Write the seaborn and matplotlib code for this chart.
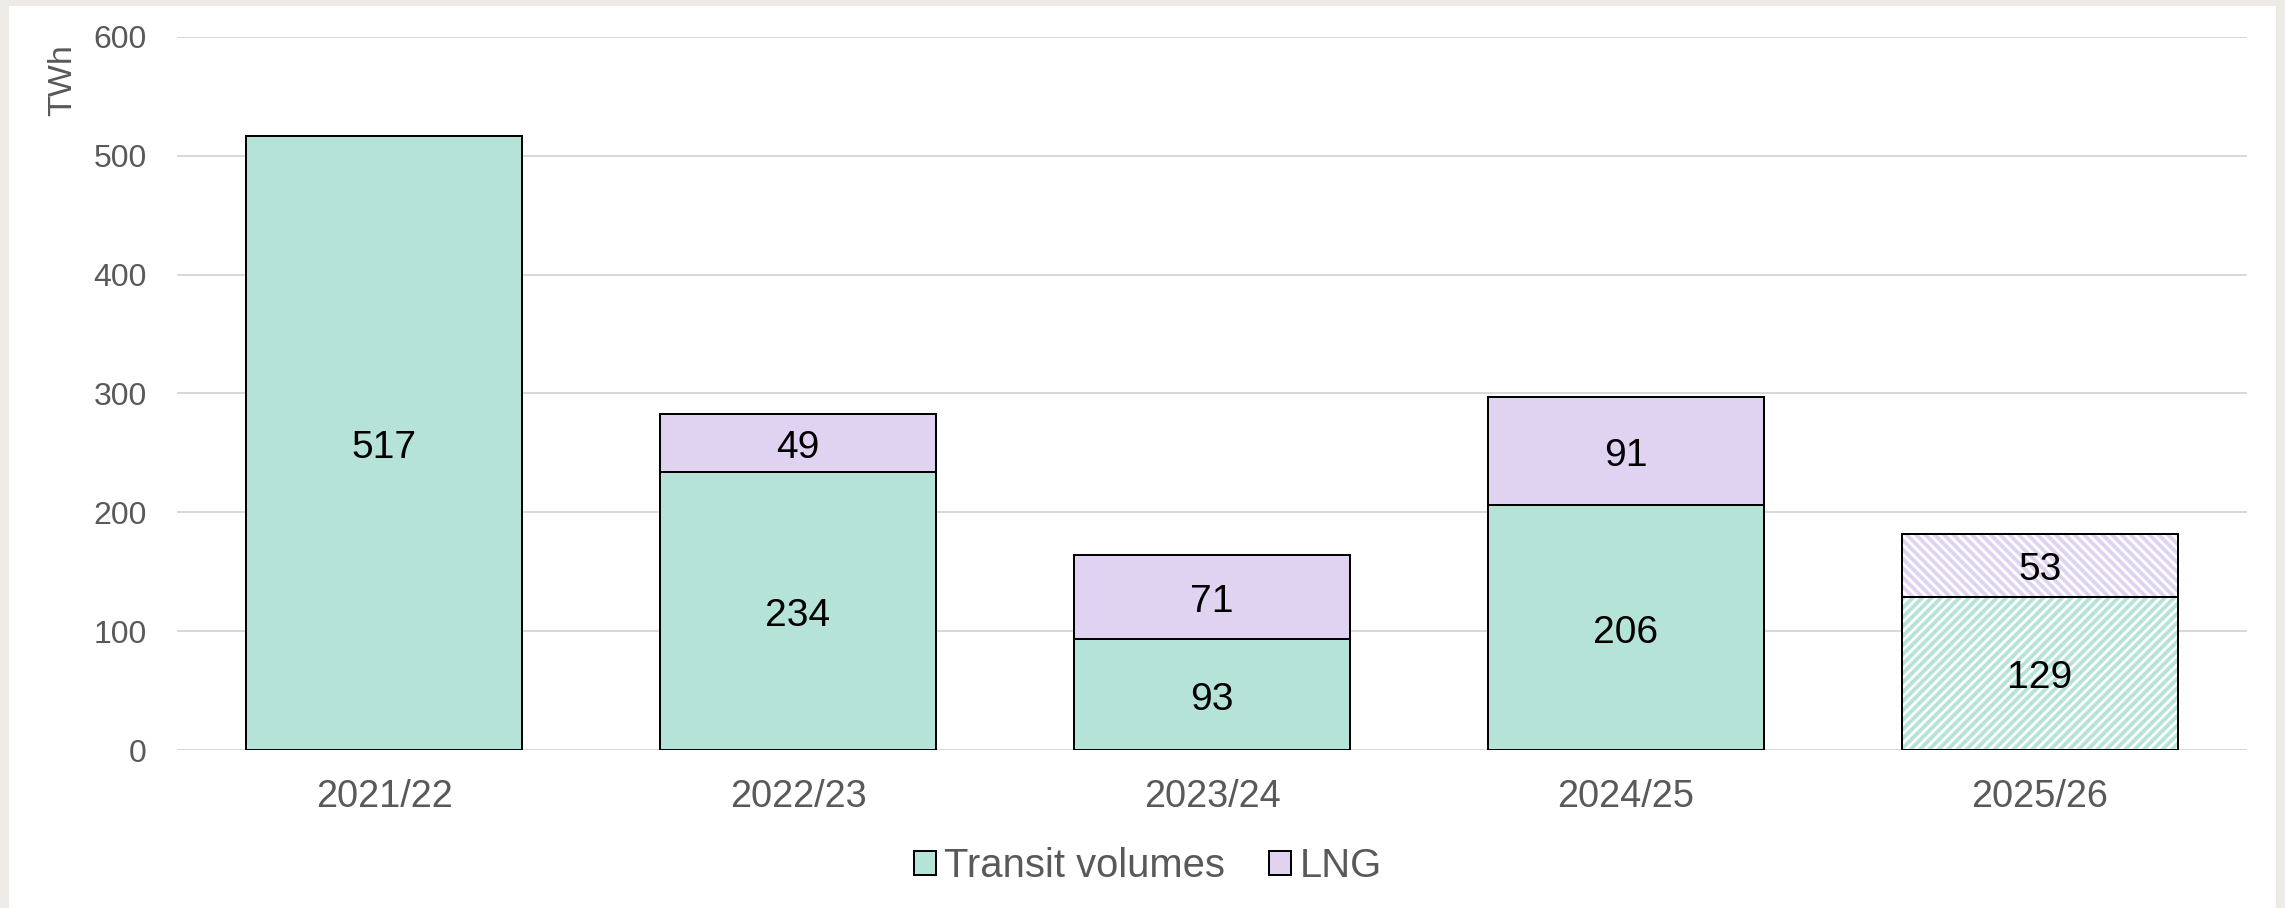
import pandas as pd
import matplotlib.pyplot as plt
import seaborn as sns
from matplotlib.patches import Patch, Rectangle

# values (TWh)
periods = ['2021/22', '2022/23', '2023/24', '2024/25', '2025/26']
transit = [517, 234, 93, 206, 129]
lng = [0, 49, 71, 91, 53]
forecast = [False, False, False, False, True]

green = '#B5E3D8'
purple = '#E0D3F2'
grey = '#595959'

# the hatch spacing follows the dpi, so pick a dpi that gives ~9px stripes
# and express every size in pixels
DPI = 56
W, H = 2285, 908


def px(v):
    return v * 72 / DPI


sns.set_theme(style='white')
plt.rcParams['font.family'] = ['Liberation Sans', 'DejaVu Sans']
plt.rcParams['hatch.linewidth'] = px(3.8)

df = pd.DataFrame({'period': periods, 'transit': transit, 'lng': lng, 'forecast': forecast})

fig = plt.figure(figsize=(W / DPI, H / DPI), dpi=DPI, facecolor='#EEEAE6')
fig.patches.append(Rectangle((9 / W, 0), 2267 / W, 902 / H,
                             transform=fig.transFigure, facecolor='white',
                             edgecolor='none', zorder=-10))
ax = fig.add_axes([177 / W, 1 - 750 / H, 2070 / W, 713 / H])
ax.set_facecolor('none')

sns.barplot(data=df, x='period', y='transit', color=green, width=0.667,
            edgecolor='black', linewidth=px(2), saturation=1, ax=ax, zorder=3)
sns.barplot(data=df, x='period', y='lng', bottom=df['transit'], color=purple, width=0.667,
            edgecolor='black', linewidth=px(2), saturation=1, ax=ax, zorder=3)

# forecast year: white bar with coloured diagonal stripes
for container, col, hatch in zip(ax.containers, [green, purple], ['//', '\\\\']):
    for bar, fc in zip(container, df['forecast']):
        if fc:
            bar.set_facecolor('white')
            x, y = bar.get_xy()
            ax.bar(x, bar.get_height(), width=bar.get_width(), bottom=y, align='edge',
                   facecolor='white', edgecolor=col, hatch=hatch, linewidth=0, zorder=3.5)
            ax.bar(x, bar.get_height(), width=bar.get_width(), bottom=y, align='edge',
                   facecolor='none', edgecolor='black', linewidth=px(2), zorder=3.6)

for container, vals in zip(ax.containers[:2], [transit, lng]):
    labels = [str(v) if v > 0 else '' for v in vals]
    anns = ax.bar_label(container, labels=labels, label_type='center', fontsize=px(39),
                        color='black', zorder=5)
    for a in anns:
        a.xyann = (0, -px(5))

ax.set_xlim(-0.5, 4.5)
ax.set_ylim(0, 600)
ax.set_yticks(range(0, 601, 100))
ax.grid(axis='y', color='#D9D9D9', linewidth=px(2), zorder=0)
ax.set_axisbelow(True)
sns.despine(ax=ax, left=True, bottom=True)
ax.tick_params(axis='both', length=0, labelcolor=grey)
ax.tick_params(axis='y', pad=px(30), labelsize=px(32))
ax.tick_params(axis='x', pad=px(29), labelsize=px(38))
ax.set_xlabel('')
ax.set_ylabel('')
fig.text(63 / W, 1 - 80 / H, 'TWh', rotation=90, ha='center', va='center',
         fontsize=px(34), color=grey)

handles = [Patch(facecolor=green, edgecolor='black', linewidth=px(2), label='Transit volumes'),
           Patch(facecolor=purple, edgecolor='black', linewidth=px(2), label='LNG')]
fig.legend(handles=handles, loc='center', bbox_to_anchor=(1148 / W, 1 - 866 / H),
           ncol=2, frameon=False, handlelength=0.55, handleheight=0.55, handletextpad=0.2,
           columnspacing=1.1, prop={'size': px(40)}, labelcolor=grey)

fig.savefig('out.png', dpi=DPI, facecolor=fig.get_facecolor())
